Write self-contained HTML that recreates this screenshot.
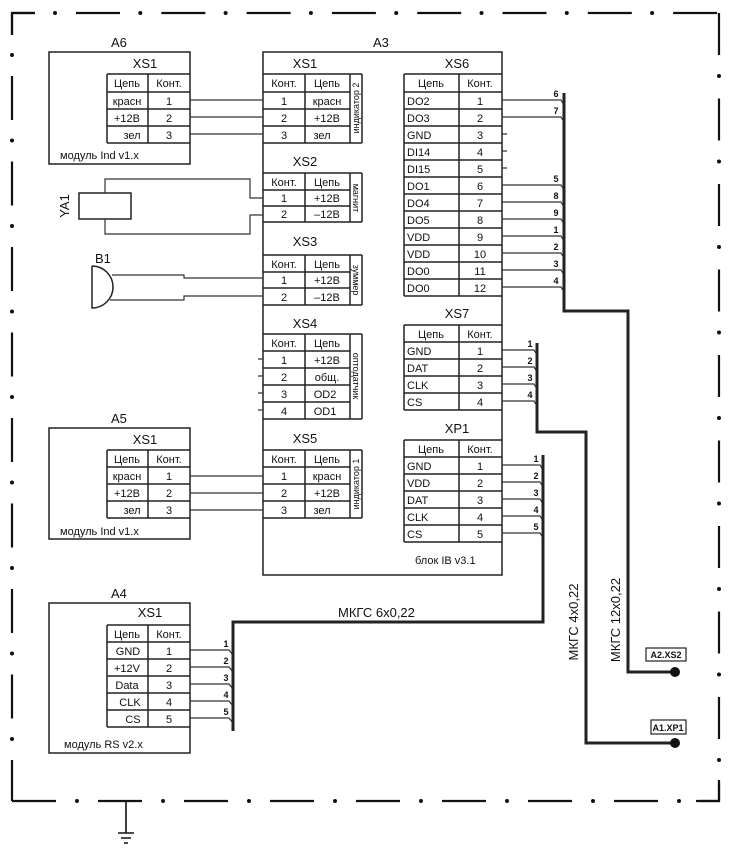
<!DOCTYPE html>
<html><head><meta charset="utf-8"><style>
body{margin:0;background:#fff}
svg{display:block}
text{font-family:"Liberation Sans",sans-serif;fill:#111}
.s{font-size:11px}
.l{font-size:13px}
.n{font-size:9px;font-weight:bold}
</style></head><body>
<svg width="733" height="857" viewBox="0 0 733 857" xmlns="http://www.w3.org/2000/svg">
<g fill="none" stroke="#111" stroke-width="2.2">
<path d="M12 35 V13 H35"/>
<path d="M12 13 H720" stroke-dasharray="44 41.3" stroke-dashoffset="-64" />
<path d="M719 13 V801" stroke-dasharray="42 43.5"/>
<path d="M12 801 H719" stroke-dasharray="44 42"/>
<path d="M12 13 V801" stroke-dasharray="44 41.5" stroke-dashoffset="-63"/>
<path d="M696 801 H719 V780"/>
</g>
<g fill="none" stroke="#111" stroke-width="4" stroke-linecap="round">
<path d="M12 13 H700" stroke-dasharray="0 85.3" stroke-dashoffset="-43"/>
<path d="M719 13 V790" stroke-dasharray="0 85.5" stroke-dashoffset="-63"/>
<path d="M12 801 H700" stroke-dasharray="0 86" stroke-dashoffset="-65"/>
<path d="M12 13 V790" stroke-dasharray="0 85.5" stroke-dashoffset="-42"/>
</g>
<g fill="none" stroke="#111" stroke-width="1.6">
<path d="M126 801 V833 M118 833 H134 M121 838 H131 M124 843 H128"/>
</g>
<g fill="none" stroke="#222" stroke-width="1.5">
<rect x="49" y="52" width="141" height="112"/>
<path d="M107 74 H190 M107 92 H190 M107 109 H190 M107 126 H190 M107 143 H190 M107 74 V143 M148 74 V143"/>
<rect x="49" y="428" width="141" height="111"/>
<path d="M107 450 H190 M107 467 H190 M107 484 H190 M107 501 H190 M107 518 H190 M107 450 V518 M148 450 V518"/>
<rect x="49" y="603" width="141" height="150"/>
<path d="M107 625 H190 M107 642 H190 M107 659 H190 M107 676 H190 M107 693 H190 M107 710 H190 M107 727 H190 M107 625 V727 M148 625 V727"/>
<rect x="263" y="52" width="239" height="523"/>
<path d="M263 74 H362 M263 92 H350 M263 109 H350 M263 126 H350 M263 143 H362 M305 74 V143 M350 74 V143 M362 74 V143"/>
<path d="M263 173 H362 M263 190 H350 M263 206 H350 M263 222 H362 M305 173 V222 M350 173 V222 M362 173 V222"/>
<path d="M263 255 H362 M263 272 H350 M263 288 H350 M263 305 H362 M305 255 V305 M350 255 V305 M362 255 V305"/>
<path d="M263 334 H362 M263 351 H350 M263 368 H350 M263 385 H350 M263 402 H350 M263 419 H362 M305 334 V419 M350 334 V419 M362 334 V419"/>
<path d="M263 450 H362 M263 467 H350 M263 484 H350 M263 501 H350 M263 518 H362 M305 450 V518 M350 450 V518 M362 450 V518"/>
<path d="M404 74 H502 M404 92 H502 M404 109 H502 M404 126 H502 M404 143 H502 M404 160 H502 M404 177 H502 M404 194 H502 M404 211 H502 M404 228 H502 M404 245 H502 M404 262 H502 M404 279 H502 M404 296 H502 M404 74 V296 M459 74 V296"/>
<path d="M404 325 H502 M404 342 H502 M404 359 H502 M404 376 H502 M404 393 H502 M404 410 H502 M404 325 V410 M459 325 V410"/>
<path d="M404 440 H502 M404 457 H502 M404 474 H502 M404 491 H502 M404 508 H502 M404 525 H502 M404 542 H502 M404 440 V542 M459 440 V542"/>
<rect x="79" y="193" width="52" height="26"/>
<path d="M92 266 V308 A21 21 0 0 0 92 266" />
</g>
<g fill="none" stroke="#333" stroke-width="1.2">
<path d="M190 100 H263 M190 117 H263 M190 134 H263"/>
<path d="M190 476 H263 M190 493 H263 M190 510 H263"/>
<path d="M105 193 V179 H250 V198 H263 M105 219 V234 H250 V215 H263"/>
<path d="M112 275 H184 V278 H263 M110 300 H184 V296 H263"/>
<path d="M502 100 H561 L564 105 M502 117 H561 L564 122 M502 185 H561 L564 190 M502 202 H561 L564 207 M502 219 H561 L564 224 M502 236 H561 L564 241 M502 253 H561 L564 258 M502 270 H561 L564 275 M502 287 H561 L564 292"/>
<path d="M502 350 H534 L537 355 M502 367 H534 L537 372 M502 384 H534 L537 389 M502 401 H534 L537 406"/>
<path d="M502 465 H540 L543 470 M502 482 H540 L543 487 M502 499 H540 L543 504 M502 516 H540 L543 521 M502 533 H540 L543 538"/>
<path d="M190 650 H229 L233 655 M190 667 H229 L233 672 M190 684 H229 L233 689 M190 701 H229 L233 706 M190 718 H229 L233 723"/>
<path d="M258 359 H263 M258 376 H263 M258 393 H263 M258 410 H263 M502 134 H507 M502 151 H507 M502 168 H507"/>
</g>
<g fill="none" stroke="#222" stroke-width="3">
<path d="M564 93 V311 H628 V672 H675"/>
<path d="M537 343 V432 H586 V743 H675"/>
<path d="M543 455 V622 H233 V731"/>
</g>
<circle cx="675" cy="672" r="5" fill="#111"/>
<circle cx="675" cy="743" r="5" fill="#111"/>
<rect x="646" y="648" width="40" height="13" fill="#fff" stroke="#222" stroke-width="1.2"/>
<rect x="651" y="720" width="35" height="14" fill="#fff" stroke="#222" stroke-width="1.2"/>
<text x="666" y="658" font-size="9" text-anchor="middle" font-weight="bold">A2.XS2</text>
<text x="668" y="731" font-size="9" text-anchor="middle" font-weight="bold">A1.XP1</text>

<g class="l">
<text x="111" y="47">А6</text><text x="373" y="47">А3</text>
<text x="111" y="423">А5</text><text x="111" y="598">А4</text>
<text x="95" y="263">В1</text>
<text transform="translate(69,206) rotate(-90)" text-anchor="middle">YA1</text>
<text x="145" y="68" text-anchor="middle">XS1</text>
<text x="145" y="444" text-anchor="middle">XS1</text>
<text x="150" y="617" text-anchor="middle">XS1</text>
<text x="305" y="68" text-anchor="middle">XS1</text>
<text x="305" y="166" text-anchor="middle">XS2</text>
<text x="305" y="246" text-anchor="middle">XS3</text>
<text x="305" y="328" text-anchor="middle">XS4</text>
<text x="305" y="443" text-anchor="middle">XS5</text>
<text x="457" y="68" text-anchor="middle">XS6</text>
<text x="457" y="318" text-anchor="middle">XS7</text>
<text x="457" y="433" text-anchor="middle">XP1</text>
<text x="338" y="617">МКГС 6х0,22</text>
<text transform="translate(578,622) rotate(-90)" text-anchor="middle">МКГС 4х0,22</text>
<text transform="translate(620,620) rotate(-90)" text-anchor="middle">МКГС 12х0,22</text>
</g>
<g class="s">
<text x="60" y="159">модуль Ind v1.x</text>
<text x="60" y="535">модуль Ind v1.x</text>
<text x="64" y="748">модуль RS v2.x</text>
<text x="415" y="564">блок IB v3.1</text>
</g>
<g class="s" text-anchor="middle">
<text x="127" y="87">Цепь</text><text x="169" y="87">Конт.</text>
<text x="127" y="105">красн</text><text x="169" y="105">1</text>
<text x="127" y="122">+12В</text><text x="169" y="122">2</text>
<text x="132" y="139">зел</text><text x="169" y="139">3</text>
<text x="127" y="463">Цепь</text><text x="169" y="463">Конт.</text>
<text x="127" y="480">красн</text><text x="169" y="480">1</text>
<text x="127" y="497">+12В</text><text x="169" y="497">2</text>
<text x="132" y="514">зел</text><text x="169" y="514">3</text>
<text x="127" y="638">Цепь</text><text x="169" y="638">Конт.</text>
<text x="128" y="655">GND</text><text x="169" y="655">1</text>
<text x="127" y="672">+12V</text><text x="169" y="672">2</text>
<text x="127" y="689">Data</text><text x="169" y="689">3</text>
<text x="130" y="706">CLK</text><text x="169" y="706">4</text>
<text x="133" y="723">CS</text><text x="169" y="723">5</text>
<text x="284" y="87">Конт.</text><text x="327" y="87">Цепь</text>
<text x="284" y="105">1</text><text x="327" y="105">красн</text>
<text x="284" y="122">2</text><text x="327" y="122">+12В</text>
<text x="284" y="139">3</text><text x="322" y="139">зел</text>
<text x="284" y="186">Конт.</text><text x="327" y="186">Цепь</text>
<text x="284" y="202">1</text><text x="327" y="202">+12В</text>
<text x="284" y="218">2</text><text x="327" y="218">–12В</text>
<text x="284" y="268">Конт.</text><text x="327" y="268">Цепь</text>
<text x="284" y="284">1</text><text x="327" y="284">+12В</text>
<text x="284" y="301">2</text><text x="327" y="301">–12В</text>
<text x="284" y="347">Конт.</text><text x="327" y="347">Цепь</text>
<text x="284" y="364">1</text><text x="327" y="364">+12В</text>
<text x="284" y="381">2</text><text x="327" y="381">общ.</text>
<text x="284" y="398">3</text><text x="325" y="398">OD2</text>
<text x="284" y="415">4</text><text x="325" y="415">OD1</text>
<text x="284" y="463">Конт.</text><text x="327" y="463">Цепь</text>
<text x="284" y="480">1</text><text x="327" y="480">красн</text>
<text x="284" y="497">2</text><text x="327" y="497">+12В</text>
<text x="284" y="514">3</text><text x="322" y="514">зел</text>
<text x="431" y="87">Цепь</text><text x="480" y="87">Конт.</text>
<text x="480" y="105">1</text><text x="480" y="122">2</text><text x="480" y="139">3</text><text x="480" y="156">4</text>
<text x="480" y="173">5</text><text x="480" y="190">6</text><text x="480" y="207">7</text><text x="480" y="224">8</text>
<text x="480" y="241">9</text><text x="480" y="258">10</text><text x="480" y="275">11</text><text x="480" y="292">12</text>
<text x="431" y="338">Цепь</text><text x="480" y="338">Конт.</text>
<text x="480" y="355">1</text><text x="480" y="372">2</text><text x="480" y="389">3</text><text x="480" y="406">4</text>
<text x="431" y="453">Цепь</text><text x="480" y="453">Конт.</text>
<text x="480" y="470">1</text><text x="480" y="487">2</text><text x="480" y="504">3</text><text x="480" y="521">4</text><text x="480" y="538">5</text>
</g>
<g class="s">
<text x="407" y="105">DO2</text><text x="407" y="122">DO3</text><text x="407" y="139">GND</text><text x="407" y="156">DI14</text>
<text x="407" y="173">DI15</text><text x="407" y="190">DO1</text><text x="407" y="207">DO4</text><text x="407" y="224">DO5</text>
<text x="407" y="241">VDD</text><text x="407" y="258">VDD</text><text x="407" y="275">DO0</text><text x="407" y="292">DO0</text>
<text x="407" y="355">GND</text><text x="407" y="372">DAT</text><text x="407" y="389">CLK</text><text x="407" y="406">CS</text>
<text x="407" y="470">GND</text><text x="407" y="487">VDD</text><text x="407" y="504">DAT</text><text x="407" y="521">CLK</text><text x="407" y="538">CS</text>
</g>
<g font-size="9" text-anchor="middle">
<text transform="translate(359,108) rotate(-90)">индикатор 2</text>
<text transform="translate(353,198) rotate(90)">магнит</text>
<text transform="translate(353,280) rotate(90)">зуммер</text>
<text transform="translate(353,376) rotate(90)">оптодатчик</text>
<text transform="translate(359,484) rotate(-90)">индикатор 1</text>
</g>
<g class="n" text-anchor="middle">
<text x="556" y="97">6</text><text x="556" y="114">7</text><text x="556" y="182">5</text><text x="556" y="199">8</text>
<text x="556" y="216">9</text><text x="556" y="233">1</text><text x="556" y="250">2</text><text x="556" y="267">3</text><text x="556" y="284">4</text>
<text x="530" y="347">1</text><text x="530" y="364">2</text><text x="530" y="381">3</text><text x="530" y="398">4</text>
<text x="536" y="462">1</text><text x="536" y="479">2</text><text x="536" y="496">3</text><text x="536" y="513">4</text><text x="536" y="530">5</text>
<text x="226" y="647">1</text><text x="226" y="664">2</text><text x="226" y="681">3</text><text x="226" y="698">4</text><text x="226" y="715">5</text>
</g>
</svg>
</body></html>
